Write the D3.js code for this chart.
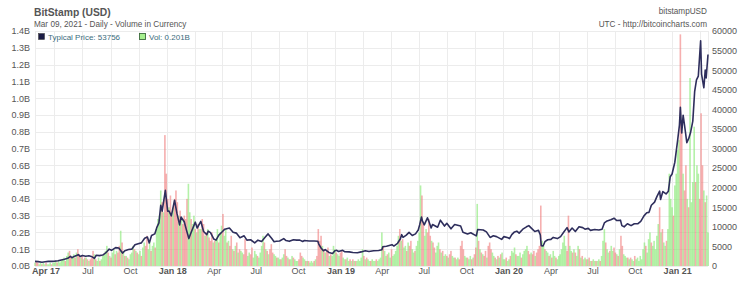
<!DOCTYPE html>
<head>
<meta charset="utf-8">
<style>
body { margin: 0; background: #fff; }
svg text { font-family: "Liberation Sans", Arial, sans-serif; }
.grid line { stroke: #ececec; stroke-width: 1px; shape-rendering: crispEdges; }
.axis text { fill: #555; font-size: 9px; }
.axis path { display: none; }
</style>
</head>
<body>
<div id="chart"></div>
<script src="https://cdnjs.cloudflare.com/ajax/libs/d3/7.8.5/d3.min.js"></script>
<script>

var width = 750, height = 287;

// typical price, USD (date, price)
var priceSeries = [
  ["2017-03-09",1190],["2017-03-16",1120],["2017-03-24",960],["2017-03-31",1070],["2017-04-07",1190],
  ["2017-04-14",1180],["2017-04-21",1240],["2017-04-28",1330],["2017-05-05",1530],["2017-05-12",1720],
  ["2017-05-19",1960],["2017-05-25",2450],["2017-05-28",2100],["2017-06-02",2450],["2017-06-11",2900],
  ["2017-06-15",2450],["2017-06-20",2700],["2017-06-27",2500],["2017-07-04",2600],["2017-07-11",2350],
  ["2017-07-16",1950],["2017-07-20",2750],["2017-07-27",2650],["2017-08-03",2800],["2017-08-10",3400],
  ["2017-08-17",4300],["2017-08-22",4000],["2017-08-31",4700],["2017-09-07",4600],["2017-09-15",3300],
  ["2017-09-20",3900],["2017-09-28",4200],["2017-10-05",4300],["2017-10-12",5400],["2017-10-19",5700],
  ["2017-10-26",5900],["2017-11-02",7100],["2017-11-08",7400],["2017-11-12",5900],["2017-11-17",7800],
  ["2017-11-24",8200],["2017-11-29",10000],["2017-12-03",11000],["2017-12-07",15500],["2017-12-10",14000],
  ["2017-12-17",19300],["2017-12-22",14000],["2017-12-25",14000],["2017-12-30",12800],["2018-01-06",16800],
  ["2018-01-11",13500],["2018-01-17",10500],["2018-01-20",12500],["2018-01-27",11300],["2018-02-01",9100],
  ["2018-02-06",7000],["2018-02-10",8300],["2018-02-20",11200],["2018-02-24",9700],["2018-03-04",11400],
  ["2018-03-10",8800],["2018-03-17",8000],["2018-03-20",8900],["2018-03-25",8500],["2018-04-01",6900],
  ["2018-04-06",6600],["2018-04-12",7900],["2018-04-20",8800],["2018-04-25",9400],["2018-05-05",9700],
  ["2018-05-13",8600],["2018-05-20",8400],["2018-05-28",7200],["2018-06-06",7700],["2018-06-12",6600],
  ["2018-06-20",6700],["2018-06-29",5900],["2018-07-06",6600],["2018-07-14",6250],["2018-07-22",7400],
  ["2018-07-28",8200],["2018-08-05",7000],["2018-08-10",6200],["2018-08-15",6300],["2018-08-22",6400],
  ["2018-08-31",7000],["2018-09-05",6500],["2018-09-12",6300],["2018-09-21",6700],["2018-09-28",6600],
  ["2018-10-05",6600],["2018-10-11",6250],["2018-10-15",6500],["2018-10-25",6400],["2018-11-05",6400],
  ["2018-11-13",6300],["2018-11-15",5600],["2018-11-20",4600],["2018-11-25",3900],["2018-11-29",4200],
  ["2018-12-07",3450],["2018-12-15",3200],["2018-12-20",3900],["2018-12-24",4000],["2018-12-28",3700],
  ["2019-01-06",4000],["2019-01-10",3650],["2019-01-20",3600],["2019-01-28",3450],["2019-02-07",3400],
  ["2019-02-15",3600],["2019-02-24",3900],["2019-03-04",3700],["2019-03-14",3880],["2019-03-25",3950],
  ["2019-04-01",4150],["2019-04-03",4900],["2019-04-11",5050],["2019-04-23",5450],["2019-04-27",5100],
  ["2019-05-05",5800],["2019-05-11",6900],["2019-05-14",8000],["2019-05-17",7300],["2019-05-24",7900],
  ["2019-05-30",8600],["2019-06-06",7800],["2019-06-13",8200],["2019-06-19",9200],["2019-06-22",10500],
  ["2019-06-26",12500],["2019-06-28",11500],["2019-07-02",10500],["2019-07-09",12300],["2019-07-12",11400],
  ["2019-07-17",9700],["2019-07-20",10600],["2019-07-31",9900],["2019-08-06",11700],["2019-08-15",10200],
  ["2019-08-20",10900],["2019-08-29",9500],["2019-09-06",10600],["2019-09-19",10200],["2019-09-24",8600],
  ["2019-10-04",8200],["2019-10-11",8500],["2019-10-23",7700],["2019-10-26",9300],["2019-11-07",9200],
  ["2019-11-14",8700],["2019-11-22",7300],["2019-11-29",7700],["2019-12-06",7500],["2019-12-17",6800],
  ["2019-12-22",7500],["2019-12-31",7200],["2020-01-03",7000],["2020-01-08",8000],["2020-01-14",8700],
  ["2020-01-19",8900],["2020-01-24",8400],["2020-02-01",9400],["2020-02-09",10000],["2020-02-14",10300],
  ["2020-02-20",9600],["2020-02-27",8800],["2020-03-06",9100],["2020-03-10",7900],["2020-03-12",5200],
  ["2020-03-16",5100],["2020-03-20",6200],["2020-03-26",6700],["2020-04-02",6800],["2020-04-07",7300],
  ["2020-04-16",7000],["2020-04-23",7500],["2020-04-30",8700],["2020-05-07",9800],["2020-05-11",8700],
  ["2020-05-18",9700],["2020-05-25",8800],["2020-06-02",10000],["2020-06-10",9800],["2020-06-15",9400],
  ["2020-06-22",9600],["2020-06-27",9100],["2020-07-06",9300],["2020-07-15",9200],["2020-07-22",9400],
  ["2020-07-27",11000],["2020-08-02",11500],["2020-08-10",11800],["2020-08-17",12200],["2020-08-23",11600],
  ["2020-08-31",11700],["2020-09-03",10300],["2020-09-08",10000],["2020-09-15",10800],["2020-09-23",10300],
  ["2020-09-30",10800],["2020-10-08",10800],["2020-10-14",11400],["2020-10-21",12800],["2020-10-27",13600],
  ["2020-11-01",13700],["2020-11-06",15500],["2020-11-13",16300],["2020-11-18",17700],["2020-11-24",19100],
  ["2020-11-26",17000],["2020-12-01",19000],["2020-12-08",18400],["2020-12-13",19100],["2020-12-17",22800],
  ["2020-12-21",23500],["2020-12-27",26500],["2021-01-02",32000],["2021-01-06",36000],["2021-01-08",40500],
  ["2021-01-11",34000],["2021-01-14",38500],["2021-01-17",36000],["2021-01-22",31500],["2021-01-26",32500],
  ["2021-01-30",34000],["2021-02-04",37000],["2021-02-08",44500],["2021-02-12",47500],["2021-02-16",48500],
  ["2021-02-21",57500],["2021-02-23",49000],["2021-02-28",45500],["2021-03-03",50000],["2021-03-05",48000],
  ["2021-03-09",54000]
];

// volume in 10M USD, one bar per 3 days from volumeStart; negative = price fell (red)
var volumeStart = "2017-03-09";
var volume = [
  2,-3,-2,1,2,-1,2,1,-2,1,
  1,2,-1,2,2,3,-2,3,2,3,
  4,5,-3,6,8,-9,-6,5,7,-5,
  8,-10,-7,5,-6,4,-5,5,-4,3,
  -4,-5,-9,7,-4,3,5,-3,4,6,
  7,9,12,-8,6,-5,8,10,-7,9,
  -8,-12,21,-14,9,-6,6,-5,4,7,
  8,12,-10,9,-8,7,9,-6,11,14,
  -12,-18,10,15,-9,12,14,-11,22,28,
  30,45,-38,32,-78,-55,-40,35,-42,-30,
  35,-40,-45,-38,30,-33,28,-25,-30,-28,
  -40,49,32,-28,25,30,-22,20,-25,22,
  22,-28,-25,18,-20,22,-17,-15,-20,14,
  -15,16,22,-14,20,24,-31,18,22,-14,
  15,-12,-18,10,-9,12,-14,8,-10,9,
  8,-7,-16,-10,6,8,-7,-11,5,9,
  7,-6,5,8,12,18,-14,10,-9,7,
  -10,-13,-8,7,6,-5,5,4,-4,5,
  7,-10,-6,5,-4,4,6,-5,4,3,
  3,-4,-8,-6,5,4,-3,3,-3,2,
  3,2,-3,4,-6,-22,-15,-18,12,-10,
  8,-9,-11,6,-7,6,12,10,-8,7,
  6,-8,-9,5,4,-4,5,3,-4,3,
  -4,3,-3,3,4,3,5,10,-6,4,
  -5,4,3,-3,4,3,3,-4,3,4,
  5,20,-12,9,6,-7,8,5,-10,6,
  7,9,12,18,-22,15,-16,11,12,-9,
  14,-12,-15,10,8,-9,12,15,20,48,
  -42,-25,18,22,-20,-28,-18,15,-14,-11,
  8,12,14,-10,8,-9,6,7,-6,5,
  -7,-9,6,5,-5,4,5,-4,-12,-15,
  -10,6,5,-5,4,6,-4,5,-7,-11,
  37,-15,10,-8,7,-6,-9,5,-12,-14,
  -10,8,6,-5,4,-6,5,-7,8,4,
  4,-5,3,4,-6,9,8,11,-7,6,
  6,8,-5,7,9,10,12,-9,-7,8,
  -7,-9,6,-8,-10,-12,-36,15,12,-10,
  9,8,-6,7,-5,9,6,-5,4,6,
  7,10,14,18,12,-9,-30,12,9,-8,
  10,-8,6,12,-10,5,-6,4,5,-4,
  4,-5,3,-3,4,3,-3,3,4,-3,
  6,15,22,-14,10,8,-9,12,9,-11,
  -8,7,-6,10,-18,-12,7,6,5,-5,
  4,-5,4,3,-6,4,5,3,6,4,
  10,14,-12,8,16,20,-14,12,15,10,
  18,25,-35,20,-22,14,12,-15,22,55,
  40,35,-30,48,55,69,75,-138,-80,55,
  -45,-60,40,-35,112,38,50,83,-50,60,
  55,-40,-91,-60,45,-38,42,20
];

// legend readings for the last day
var lastTypicalPrice = 53756;
var lastVolume = 0.201e9;

var volTicks = d3.range(0, 15).map(function(i) { return i * 1e8; });
var priceTicks = d3.range(0, 13).map(function(i) { return i * 5000; });
var quarterTicks = ["2017-04-01","2017-07-01","2017-10-01","2018-01-01","2018-04-01","2018-07-01","2018-10-01",
  "2019-01-01","2019-04-01","2019-07-01","2019-10-01","2020-01-01","2020-04-01","2020-07-01","2020-10-01","2021-01-01"];
var boldTicks = ["2017-04-01","2018-01-01","2019-01-01","2020-01-01","2021-01-01"];

var parse = d3.utcParse("%Y-%m-%d");
var fmtDay = d3.utcFormat("%Y-%m-%d");
var start = parse("2017-03-09"), end = parse("2021-03-09");

var x = d3.scaleUtc().domain([start, end]).range([35, 708]);
var yVol = d3.scaleLinear().domain([0, 1.4e9]).range([266, 31]);
var yPrice = d3.scaleLinear().domain([0, 60000]).range([266, 31]);

var svg = d3.select("#chart").append("svg")
    .attr("width", width)
    .attr("height", height);

// grid
var gridDates = d3.utcMonth.range(parse("2017-03-01"), end)
    .filter(function(d) { return d.getUTCMonth() % 2 === 1; })
    .map(function(d) { return d3.utcDay.offset(d, 19); })
    .filter(function(d) { return d > start && d < end; });

var grid = svg.append("g").attr("class", "grid");
grid.selectAll(".h").data(volTicks).enter().append("line")
    .attr("x1", x.range()[0]).attr("x2", x.range()[1])
    .attr("y1", function(d) { return Math.round(yVol(d)) + 0.5; })
    .attr("y2", function(d) { return Math.round(yVol(d)) + 0.5; });
grid.selectAll(".v").data(gridDates.concat([start, end])).enter().append("line")
    .attr("x1", function(d) { return Math.round(x(d)) + 0.5; })
    .attr("x2", function(d) { return Math.round(x(d)) + 0.5; })
    .attr("y1", yVol.range()[1]).attr("y2", yVol.range()[0]);

// volume bars
var bars = volume.map(function(v, i) {
  return { date: d3.utcDay.offset(parse(volumeStart), i * 3), vol: Math.abs(v) * 1e7, down: v < 0 };
});
svg.append("g").selectAll("rect").data(bars).enter().append("rect")
    .attr("x", function(d) { return x(d.date) - 0.8; })
    .attr("width", 1.6)
    .attr("y", function(d) { return yVol(d.vol); })
    .attr("height", function(d) { return yVol(0) - yVol(d.vol); })
    .attr("fill", function(d) { return d.down ? "#f07a7a" : "#86e872"; })
    .attr("fill-opacity", function(d) { return d.down ? 0.6 : 0.62; });

// price line
var line = d3.line()
    .x(function(d) { return x(parse(d[0])); })
    .y(function(d) { return yPrice(d[1]); });
svg.append("path").datum(priceSeries)
    .attr("d", line)
    .attr("fill", "none")
    .attr("stroke", "#2e2e5c")
    .attr("stroke-width", 1.6)
    .attr("stroke-linejoin", "round");

// axes
svg.append("g").attr("class", "axis")
    .attr("transform", "translate(31,0)")
    .call(d3.axisLeft(yVol).tickValues(volTicks).tickSize(0).tickPadding(1)
      .tickFormat(function(d) { return (d / 1e9).toFixed(1) + "B"; }));

svg.append("g").attr("class", "axis")
    .attr("transform", "translate(711,0)")
    .call(d3.axisRight(yPrice).tickValues(priceTicks).tickSize(0).tickPadding(1)
      .tickFormat(d3.format("d")));

var xAxis = svg.append("g").attr("class", "axis")
    .attr("transform", "translate(0,266)")
    .call(d3.axisBottom(x).tickValues(quarterTicks.map(parse)).tickSize(0).tickPadding(2)
      .tickFormat(function(d) {
        var m = d3.utcFormat("%b")(d);
        return boldTicks.indexOf(fmtDay(d)) >= 0 ? m + " " + d3.utcFormat("%y")(d) : m;
      }));
xAxis.selectAll("text")
    .style("font-weight", function(d) { return boldTicks.indexOf(fmtDay(d)) >= 0 ? "bold" : "normal"; });

// titles
svg.append("text").attr("x", 34).attr("y", 16)
    .style("font-size", "10.3px").style("font-weight", "bold").attr("fill", "#555")
    .text("BitStamp (USD)");
svg.append("text").attr("x", 34).attr("y", 27)
    .style("font-size", "8.2px").attr("fill", "#555")
    .text("Mar 09, 2021 - Daily - Volume in Currency");
svg.append("text").attr("x", 707).attr("y", 14).attr("text-anchor", "end")
    .style("font-size", "8.2px").attr("fill", "#555")
    .text("bitstampUSD");
svg.append("text").attr("x", 707).attr("y", 26.5).attr("text-anchor", "end")
    .style("font-size", "8.2px").attr("fill", "#555")
    .text("UTC - http://bitcoincharts.com");

// legend
var legend = svg.append("g");
legend.append("rect").attr("x", 38.5).attr("y", 33.5).attr("width", 6).attr("height", 6)
    .attr("fill", "#1c1c44").attr("stroke", "#444").attr("stroke-width", 0.6);
legend.append("text").attr("x", 48).attr("y", 39.5)
    .style("font-size", "8px").attr("fill", "#3b6c7c")
    .text("Typical Price: " + lastTypicalPrice);
legend.append("rect").attr("x", 139.5).attr("y", 33.5).attr("width", 6).attr("height", 6)
    .attr("fill", "#a6f08e").attr("stroke", "#3d6b3d").attr("stroke-width", 0.9);
legend.append("text").attr("x", 149).attr("y", 39.5)
    .style("font-size", "8px").attr("fill", "#3b6c7c")
    .text("Vol: " + (lastVolume / 1e9).toFixed(3) + "B");

</script>
</body>
</html>
